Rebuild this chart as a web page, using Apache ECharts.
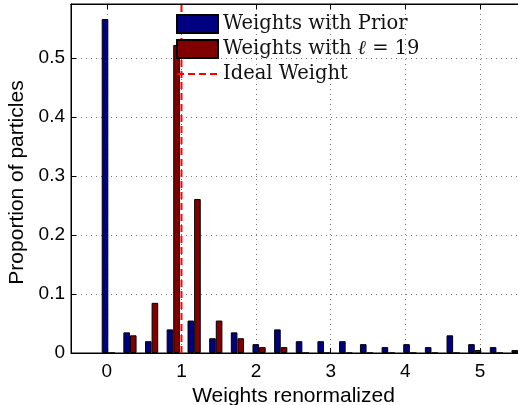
<!DOCTYPE html>
<html>
<head>
<meta charset="utf-8">
<style>
  html, body { margin: 0; padding: 0; background: #fff; }
  #chart { width: 518px; height: 405px; }
</style>
<script src="https://cdn.jsdelivr.net/npm/echarts@6/dist/echarts.min.js"></script>
</head>
<body>
<div id="chart"></div>
<script>
// Histogram bin centres (renormalized weight)
const binCenters = [0.02, 0.31, 0.60, 0.89, 1.17, 1.46, 1.75, 2.04, 2.33, 2.62,
                    2.91, 3.20, 3.48, 3.77, 4.06, 4.35, 4.64, 4.93, 5.22, 5.51];
// Proportion of particles in each bin
const priorWeights = [0.566, 0.035, 0.020, 0.040, 0.055, 0.025, 0.035, 0.015, 0.040, 0.020,
                      0.020, 0.020, 0.015, 0.010, 0.015, 0.010, 0.030, 0.015, 0.010, 0.005];
const ellWeights   = [0.000, 0.030, 0.085, 0.522, 0.261, 0.055, 0.025, 0.010, 0.010, 0.000,
                      0.000, 0.000, 0.000, 0.000, 0.000, 0.000, 0.000, 0.005, 0.000, 0.000];
const idealWeight = 1;
const seriesNames = ['Weights with Prior', 'Weights with \u2113 = 19', 'Ideal Weight'];

const xMin = -0.48, xMax = 5.536;
const yMin = 0, yMax = 0.5915;

const pairs = (vals) => binCenters.map((c, i) => [c, vals[i]]);

const chart = echarts.init(document.getElementById('chart'), null, { renderer: 'canvas' });

const sans = '"Liberation Sans", Arial, Helvetica, sans-serif';
const serif = '"DejaVu Serif", serif';

chart.setOption({
  animation: false,
  backgroundColor: '#ffffff',
  grid: {
    left: 71, top: 4, right: -2, bottom: 52,
    outerBoundsMode: 'none', containLabel: false,
    show: true, borderColor: '#000', borderWidth: 1, backgroundColor: 'transparent'
  },
  legend: {
    orient: 'vertical',
    left: 176, top: 14,
    itemWidth: 41, itemHeight: 18, itemGap: 5,
    padding: 0,
    textStyle: {
      fontFamily: serif, fontSize: 19.5, color: '#111',
      rich: {
        m: { fontFamily: serif, fontSize: 19.5, fontStyle: 'italic', color: '#111' }
      }
    },
    formatter: (name) => name.replace('\u2113', '{m|\u2113}'),
    data: [
      { name: seriesNames[0], icon: 'rect' },
      { name: seriesNames[1], icon: 'rect' },
      { name: seriesNames[2], itemStyle: { opacity: 0 } }
    ]
  },
  xAxis: [{
    type: 'value', min: xMin, max: xMax, splitNumber: 5,
    name: 'Weights renormalized', nameLocation: 'middle', nameGap: 31,
    nameTextStyle: { fontFamily: sans, fontSize: 21, color: '#000', padding: [0, 4, 0, 0] },
    axisLine: { show: true, onZero: false, lineStyle: { color: '#000', width: 1 } },
    axisTick: { show: true, inside: true, length: 5, lineStyle: { color: '#000' } },
    axisLabel: { fontFamily: sans, fontSize: 19, color: '#000', margin: 9,
                 showMinLabel: false, showMaxLabel: false },
    splitLine: { show: true, lineStyle: { color: '#7a7a7a', type: [1, 4], width: 1 } }
  }, {
    type: 'value', min: xMin, max: xMax, splitNumber: 5, position: 'top',
    axisLine: { show: true, onZero: false, lineStyle: { color: '#000' } },
    axisTick: { show: true, inside: true, length: 5, lineStyle: { color: '#000' } },
    axisLabel: { show: false },
    splitLine: { show: false }
  }],
  yAxis: {
    type: 'value', min: yMin, max: yMax, interval: 0.1,
    name: 'Proportion of particles', nameLocation: 'middle', nameGap: 40,
    nameTextStyle: { fontFamily: sans, fontSize: 21, color: '#000', padding: [0, 8, 0, 0] },
    axisLine: { show: true, onZero: false, lineStyle: { color: '#000', width: 1 } },
    axisTick: { show: true, inside: true, length: 5, lineStyle: { color: '#000' } },
    axisLabel: { fontFamily: sans, fontSize: 19, color: '#000', margin: 6, showMaxLabel: false,
                 formatter: (v) => String(+v.toFixed(2)) },
    splitLine: { show: true, lineStyle: { color: '#7a7a7a', type: [1, 4], width: 1 } }
  },
  series: [
    {
      name: seriesNames[0], type: 'bar', xAxisIndex: 0,
      data: pairs(priorWeights),
      barWidth: 6.6, barGap: '0%',
      itemStyle: { color: '#000080', borderColor: '#000', borderWidth: 1 },
      clip: true, z: 2
    },
    {
      name: seriesNames[1], type: 'bar', xAxisIndex: 0,
      data: pairs(ellWeights),
      barWidth: 6.6, barGap: '0%',
      itemStyle: { color: '#800000', borderColor: '#000', borderWidth: 1 },
      clip: true, z: 2
    },
    {
      name: seriesNames[2], type: 'line', xAxisIndex: 0,
      data: [[idealWeight, yMin], [idealWeight, yMax]],
      symbol: 'none',
      lineStyle: { color: '#ff0000', width: 2, type: [7, 4] },
      itemStyle: { color: '#ff0000' },
      z: 3
    }
  ]
});
</script>
</body>
</html>
